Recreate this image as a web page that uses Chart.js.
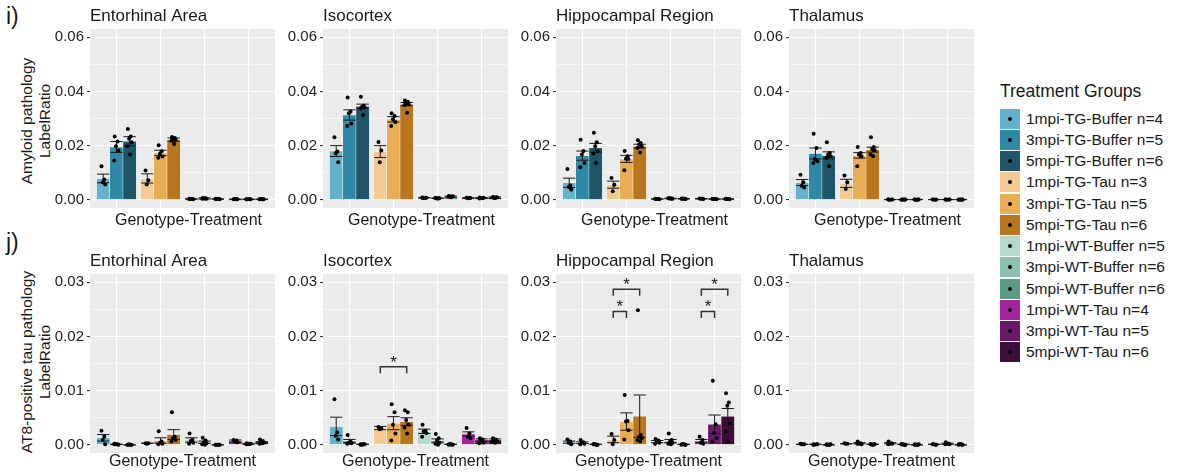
<!DOCTYPE html>
<html>
<head>
<meta charset="utf-8">
<script src="https://cdn.jsdelivr.net/npm/chart.js@4.4.1/dist/chart.umd.min.js"></script>
<style>
  body { margin:0; width:1186px; height:475px; position:relative; overflow:hidden; background:#fff;
         font-family:"Liberation Sans", Arial, sans-serif; color:#1a1a1a; }
  .pnl { position:absolute; }
  .tag { position:absolute; font-size:23px; line-height:26px; }
  .ytitle { position:absolute; font-size:15.5px; line-height:18px; text-align:center; white-space:nowrap;
            transform:translate(-50%,-50%) rotate(-90deg); }
  #legend { position:absolute; left:1000px; top:81px; }
  #legend .ttl { font-size:17.5px; line-height:20px; margin-bottom:7px; }
  #legend .row { height:21.25px; display:flex; align-items:center; font-size:15.5px; }
  #legend .key { width:20px; height:20px; margin-right:6px; position:relative; }
  #legend .key::after { content:""; position:absolute; left:8px; top:8px; width:4px; height:4px; border-radius:50%; background:#000; }
</style>
</head>
<body>
<div class="tag" style="left:6px;top:3px">i)</div>
<div class="tag" style="left:6px;top:229px">j)</div>
<div class="ytitle" style="left:36px;top:121px">Amyloid pathology<br>LabelRatio</div>
<div class="ytitle" style="left:36px;top:362px">AT8-positive tau pathology<br>LabelRatio</div>
<div id="legend"></div>

<script>
// ---- data ----
const regions = ['Entorhinal Area', 'Isocortex', 'Hippocampal Region', 'Thalamus'];
const xTitle = 'Genotype-Treatment';
const legendTitle = 'Treatment Groups';
const groupLabels = ['1mpi-TG-Buffer n=4','3mpi-TG-Buffer n=5','5mpi-TG-Buffer n=6',
  '1mpi-TG-Tau n=3','3mpi-TG-Tau n=5','5mpi-TG-Tau n=6',
  '1mpi-WT-Buffer n=5','3mpi-WT-Buffer n=6','5mpi-WT-Buffer n=6',
  '1mpi-WT-Tau n=4','3mpi-WT-Tau n=5','5mpi-WT-Tau n=6'];

const amyTicks = [0, 0.02, 0.04, 0.06];
const tauTicks = [0, 0.01, 0.02, 0.03];

// amyloid row (i)
const amyEntMean = [0.0079, 0.0195, 0.0216, 0.0079, 0.0173, 0.0222, 0.0003, 0.0005, 0.0003, 0.0002, 0.0002, 0.0002];
const amyEntSe   = [0.0016, 0.0020, 0.0017, 0.0017, 0.0010, 0.0006, 0.0001, 0.0002, 0.0001, 0.0001, 0.0001, 0.0001];
const amyEntPts  = [[0.0124,0.0075,0.0065,0.0057],[0.0234,0.0215,0.0198,0.0182,0.0145],
  [0.0261,0.0234,0.0225,0.0212,0.0198,0.0167],[0.0108,0.0072,0.0057],[0.0201,0.0179,0.0170,0.0160,0.0155],
  [0.0232,0.0228,0.0226,0.0222,0.0218,0.0206],[0.0004,0.0003,0.0003,0.0002,0.0003],
  [0.0007,0.0006,0.0005,0.0004,0.0004,0.0005],[0.0004,0.0003,0.0003,0.0002,0.0003,0.0003],
  [0.0002,0.0002,0.0003,0.0002],[0.0002,0.0002,0.0003,0.0002,0.0002],[0.0002,0.0002,0.0003,0.0002,0.0002,0.0002]];

const amyIsoMean = [0.0180, 0.0313, 0.0345, 0.0178, 0.0297, 0.0353, 0.0008, 0.0006, 0.0012, 0.0007, 0.0007, 0.0009];
const amyIsoSe   = [0.0020, 0.0019, 0.0008, 0.0022, 0.0010, 0.0006, 0.0001, 0.0001, 0.0002, 0.0001, 0.0002, 0.0002];
const amyIsoPts  = [[0.0231,0.0178,0.0172,0.0139],[0.0377,0.0325,0.0319,0.0282,0.0272],
  [0.0380,0.0347,0.0343,0.0341,0.0337,0.0313],[0.0213,0.0182,0.0139],[0.0319,0.0309,0.0297,0.0287,0.0272],
  [0.0366,0.0362,0.0356,0.0353,0.0350,0.0321],[0.0009,0.0008,0.0007,0.0008,0.0008],
  [0.0007,0.0006,0.0005,0.0006,0.0007,0.0005],[0.0014,0.0012,0.0011,0.0013,0.0012,0.0010],
  [0.0008,0.0007,0.0006,0.0007],[0.0009,0.0007,0.0006,0.0008,0.0005],[0.0011,0.0009,0.0008,0.0010,0.0009,0.0007]];

const amyHipMean = [0.0063, 0.0163, 0.0192, 0.0056, 0.0151, 0.0198, 0.0003, 0.0005, 0.0004, 0.0004, 0.0003, 0.0003];
const amyHipSe   = [0.0017, 0.0017, 0.0016, 0.0013, 0.0013, 0.0007, 0.0001, 0.0001, 0.0001, 0.0001, 0.0001, 0.0001];
const amyHipPts  = [[0.0114,0.0053,0.0047,0.0038],[0.0222,0.0180,0.0167,0.0136,0.0120],
  [0.0247,0.0212,0.0198,0.0179,0.0171,0.0136],[0.0081,0.0056,0.0032],[0.0180,0.0161,0.0152,0.0151,0.0109],
  [0.0220,0.0210,0.0204,0.0198,0.0191,0.0175],[0.0004,0.0003,0.0003,0.0002,0.0003],
  [0.0006,0.0005,0.0005,0.0004,0.0006,0.0005],[0.0005,0.0004,0.0004,0.0003,0.0004,0.0004],
  [0.0005,0.0004,0.0004,0.0003],[0.0004,0.0003,0.0003,0.0002,0.0003],[0.0004,0.0003,0.0003,0.0002,0.0003,0.0003]];

const amyThaMean = [0.0064, 0.0171, 0.0164, 0.0061, 0.0164, 0.0185, 0.0001, 0.0001, 0.0001, 0.0001, 0.0001, 0.0001];
const amyThaSe   = [0.0011, 0.0020, 0.0013, 0.0015, 0.0010, 0.0009, 0.00003, 0.00003, 0.00003, 0.00003, 0.00003, 0.00003];
const amyThaPts  = [[0.0093,0.0065,0.0052,0.0046],[0.0244,0.0191,0.0151,0.0142,0.0136],
  [0.0212,0.0173,0.0167,0.0161,0.0155,0.0124],[0.0090,0.0065,0.0040],[0.0195,0.0173,0.0167,0.0161,0.0124],
  [0.0231,0.0195,0.0188,0.0183,0.0167,0.0161],[0.0001,0.0001,0.0000,0.0001,0.0001],
  [0.0001,0.0000,0.0001,0.0001,0.0000,0.0001],[0.0001,0.0001,0.0000,0.0001,0.0001,0.0000],
  [0.0001,0.0000,0.0001,0.0001],[0.0001,0.0001,0.0000,0.0001,0.0001],[0.0001,0.0000,0.0001,0.0001,0.0000,0.0001]];

// AT8 tau row (j)
const tauEntMean = [0.0013, 0.0001, 0.0000, 0.0003, 0.0008, 0.0019, 0.0009, 0.0005, 0.0000, 0.0007, 0.0002, 0.0005];
const tauEntSe   = [0.0006, 0.00005, 0.00002, 0.00003, 0.0005, 0.0009, 0.0004, 0.0002, 0.00002, 0.0002, 0.0001, 0.0001];
const tauEntPts  = [[0.0026,0.0015,0.0009,0.0001],[0.0002,0.0001,0.0001,0.0000,0.0001],
  [0.0000,0.0000,0.0001,0.0000,0.0000,0.0000],[0.0003,0.0003,0.0002],[0.0025,0.0006,0.0004,0.0002,0.0001],
  [0.0060,0.0015,0.0012,0.0009,0.0006,0.0012],[0.0021,0.0009,0.0007,0.0004,0.0002],
  [0.0013,0.0008,0.0005,0.0003,0.0001,0.0000],[0.0000,0.0000,0.0000,0.0000,0.0000,0.0000],
  [0.0009,0.0008,0.0006,0.0005],[0.0003,0.0002,0.0001,0.0002,0.0001],[0.0010,0.0007,0.0005,0.0004,0.0002,0.0003]];

const tauIsoMean = [0.0034, 0.0007, 0.0001, 0.0031, 0.0040, 0.0043, 0.0025, 0.0008, 0.0001, 0.0020, 0.0009, 0.0009];
const tauIsoSe   = [0.0017, 0.0003, 0.00003, 0.0003, 0.0012, 0.0007, 0.0004, 0.0003, 0.00003, 0.0004, 0.0002, 0.0002];
const tauIsoPts  = [[0.0084,0.0023,0.0017,0.0010],[0.0018,0.0006,0.0004,0.0003,0.0002],
  [0.0001,0.0001,0.0000,0.0001,0.0000,0.0001],[0.0033,0.0030,0.0029],[0.0075,0.0060,0.0037,0.0021,0.0008],
  [0.0064,0.0060,0.0046,0.0037,0.0032,0.0021],[0.0037,0.0026,0.0025,0.0022,0.0015],
  [0.0020,0.0012,0.0008,0.0004,0.0002,0.0000],[0.0001,0.0000,0.0001,0.0000,0.0000,0.0001],
  [0.0031,0.0021,0.0015,0.0012],[0.0012,0.0010,0.0008,0.0004,0.0003],[0.0012,0.0010,0.0009,0.0008,0.0006,0.0004]];
const tauIsoSig  = [[3, 5, 0.0144]];

const tauHipMean = [0.0005, 0.0004, 0.0001, 0.0010, 0.0043, 0.0053, 0.0006, 0.0007, 0.0001, 0.0007, 0.0038, 0.0053];
const tauHipSe   = [0.0002, 0.00015, 0.00003, 0.0006, 0.0016, 0.0039, 0.0002, 0.0003, 0.00003, 0.0003, 0.0017, 0.0014];
const tauHipPts  = [[0.0010,0.0006,0.0004,0.0001],[0.0009,0.0005,0.0004,0.0002,0.0001],
  [0.0001,0.0000,0.0001,0.0000,0.0001,0.0000],[0.0020,0.0009,0.0001],[0.0092,0.0044,0.0043,0.0027,0.0010],
  [0.0248,0.0018,0.0015,0.0012,0.0009,0.0006],[0.0011,0.0008,0.0006,0.0004,0.0002],
  [0.0021,0.0009,0.0006,0.0004,0.0002,0.0001],[0.0001,0.0000,0.0001,0.0000,0.0000,0.0001],
  [0.0015,0.0009,0.0004,0.0002],[0.0118,0.0038,0.0022,0.0012,0.0006],[0.0095,0.0078,0.0072,0.0040,0.0025,0.0006]];
const tauHipSig  = [[3, 4, 0.0246], [3, 5, 0.0287], [9, 10, 0.0246], [9, 11, 0.0287]];

const tauThaMean = [0.0001, 0.0001, 0.0000, 0.0002, 0.0003, 0.0001, 0.0003, 0.0001, 0.0000, 0.0001, 0.0002, 0.0000];
const tauThaSe   = [0.00003, 0.00002, 0.00002, 0.00003, 0.0001, 0.00002, 0.0001, 0.00002, 0.00002, 0.00003, 0.0001, 0.00002];
const tauThaPts  = [[0.0002,0.0001,0.0001,0.0001],[0.0001,0.0001,0.0000,0.0001,0.0000],
  [0.0001,0.0000,0.0000,0.0001,0.0000,0.0000],[0.0003,0.0002,0.0002],[0.0006,0.0003,0.0002,0.0001,0.0002],
  [0.0001,0.0001,0.0000,0.0001,0.0001,0.0000],[0.0006,0.0003,0.0002,0.0002,0.0001],
  [0.0001,0.0000,0.0001,0.0000,0.0001,0.0000],[0.0001,0.0000,0.0000,0.0001,0.0000,0.0000],
  [0.0001,0.0000,0.0001,0.0000],[0.0005,0.0002,0.0002,0.0001,0.0001],[0.0001,0.0000,0.0001,0.0000,0.0000,0.0001]];

// ---- styling ----
const groupColors = ['#63b1cd','#2f88a6','#1e5667','#f4ca92','#e9ad55','#b8771f',
                     '#b6d9cd','#8dc1b1','#5b9c89','#a6239f','#6a176a','#3b0d39'];
const FONT = '"Liberation Sans", Arial, sans-serif';
const colLeft = [90, 323, 556, 789];
const AXW = 40, PLOTW = 189;
const rows = [
  { top: 0,   h: 232, padB: 24, min: -0.003,  max: 0.063,  ticks: amyTicks, minor: 0.01,  xShift: 6, xOff: 12.5 },
  { top: 245, h: 230, padB: 22, min: -0.0015, max: 0.0315, ticks: tauTicks, minor: 0.005, xShift: 0, xOff: 9 }
];
const jitter = [-0.04, 0.025, -0.012, 0.045, -0.05, 0.01];
const barPos = i => Math.floor(i / 3) + 1 + (i % 3 - 1) * 0.3;

const panels = [
  { row: 0, col: 0, mean: amyEntMean, se: amyEntSe, pts: amyEntPts, sig: [] },
  { row: 0, col: 1, mean: amyIsoMean, se: amyIsoSe, pts: amyIsoPts, sig: [] },
  { row: 0, col: 2, mean: amyHipMean, se: amyHipSe, pts: amyHipPts, sig: [] },
  { row: 0, col: 3, mean: amyThaMean, se: amyThaSe, pts: amyThaPts, sig: [] },
  { row: 1, col: 0, mean: tauEntMean, se: tauEntSe, pts: tauEntPts, sig: [] },
  { row: 1, col: 1, mean: tauIsoMean, se: tauIsoSe, pts: tauIsoPts, sig: tauIsoSig },
  { row: 1, col: 2, mean: tauHipMean, se: tauHipSe, pts: tauHipPts, sig: tauHipSig },
  { row: 1, col: 3, mean: tauThaMean, se: tauThaSe, pts: tauThaPts, sig: [] }
];

// panel background, error bars, significance brackets, titles
const extras = {
  id: 'extras',
  beforeDraw(chart) {
    const { ctx, chartArea: a } = chart;
    ctx.save();
    ctx.fillStyle = '#ebebeb';
    ctx.fillRect(a.left, a.top, a.right - a.left, a.bottom - a.top);
    ctx.restore();
  },
  afterDatasetDraw(chart, args, o) {
    if (args.meta.type !== 'bar') return;
    const { ctx, scales: { x, y } } = chart;
    ctx.save();
    ctx.strokeStyle = '#1a1a1a';
    ctx.lineWidth = 1;
    o.mean.forEach((m, i) => {
      const p = barPos(i);
      const cx = x.getPixelForValue(p);
      const hw = x.getPixelForValue(p + 0.14) - cx;
      const t = y.getPixelForValue(m + o.se[i]);
      const b = y.getPixelForValue(m - o.se[i]);
      ctx.beginPath();
      ctx.moveTo(cx - hw, t); ctx.lineTo(cx + hw, t);
      ctx.moveTo(cx, t); ctx.lineTo(cx, b);
      ctx.moveTo(cx - hw, b); ctx.lineTo(cx + hw, b);
      ctx.stroke();
    });
    ctx.restore();
  },
  afterDraw(chart, args, o) {
    const { ctx, chartArea: a, scales: { x, y } } = chart;
    ctx.save();
    ctx.strokeStyle = '#333';
    ctx.lineWidth = 1.5;
    ctx.fillStyle = '#1a1a1a';
    ctx.font = '17px ' + FONT;
    ctx.textAlign = 'center';
    ctx.textBaseline = 'alphabetic';
    o.sig.forEach(([from, to, h]) => {
      const xa = x.getPixelForValue(barPos(from));
      const xb = x.getPixelForValue(barPos(to));
      const yt = y.getPixelForValue(h);
      const yl = y.getPixelForValue(h - 0.0012);
      ctx.beginPath();
      ctx.moveTo(xa, yl); ctx.lineTo(xa, yt); ctx.lineTo(xb, yt); ctx.lineTo(xb, yl);
      ctx.stroke();
      ctx.fillText('*', (xa + xb) / 2, yt + 1);
    });
    ctx.textBaseline = 'middle';
    ctx.font = '17px ' + FONT;
    ctx.textAlign = 'left';
    ctx.fillText(o.title, a.left, a.top - 13);
    ctx.font = '16px ' + FONT;
    ctx.textAlign = 'center';
    ctx.fillText(xTitle, (a.left + a.right) / 2 + o.xShift, a.bottom + o.xOff);
    ctx.restore();
  }
};

panels.forEach(pn => {
  const r = rows[pn.row];
  const wrap = document.createElement('div');
  wrap.className = 'pnl';
  wrap.style.left = (colLeft[pn.col] - AXW) + 'px';
  wrap.style.top = r.top + 'px';
  const cv = document.createElement('canvas');
  cv.width = AXW + PLOTW;
  cv.height = r.h;
  wrap.appendChild(cv);
  document.body.appendChild(wrap);

  const isMajor = v => r.ticks.some(t => Math.abs(t - v) < 1e-9);
  const yTickVals = [];
  for (let k = 0; k <= Math.round(r.ticks[r.ticks.length - 1] / r.minor); k++) yTickVals.push(+(k * r.minor).toFixed(4));

  const points = [];
  pn.pts.forEach((arr, i) => arr.forEach((v, k) => points.push({ x: barPos(i) + jitter[k % jitter.length], y: v })));

  new Chart(cv, {
    type: 'bar',
    data: {
      datasets: [
        {
          type: 'bar', order: 2,
          data: pn.mean.map((m, i) => ({ x: barPos(i), y: m })),
          backgroundColor: groupColors,
          borderColor: '#ffffff',
          borderWidth: 0.6,
          barThickness: 13.5
        },
        {
          type: 'scatter', order: 1,
          data: points,
          pointRadius: 2,
          pointBackgroundColor: '#000',
          pointBorderWidth: 0
        }
      ]
    },
    options: {
      responsive: false,
      animation: false,
      events: [],
      layout: { padding: { top: 29, bottom: r.padB, left: 0, right: 0 } },
      plugins: {
        legend: { display: false },
        tooltip: { enabled: false },
        extras: { mean: pn.mean, se: pn.se, sig: pn.sig, title: regions[pn.col], xShift: r.xShift, xOff: r.xOff }
      },
      scales: {
        x: {
          type: 'linear', min: 0.4, max: 4.6, offset: false,
          ticks: { display: false },
          grid: { color: '#ffffff', lineWidth: 1.1, drawTicks: false, offset: false },
          border: { display: false },
          afterBuildTicks: s => { s.ticks = [1, 2, 3, 4].map(v => ({ value: v })); },
          afterFit: s => { s.height = 0; }
        },
        y: {
          type: 'linear', min: r.min, max: r.max,
          afterBuildTicks: s => { s.ticks = yTickVals.map(v => ({ value: v })); },
          afterFit: s => { s.width = AXW; },
          ticks: {
            autoSkip: false, padding: 3, color: '#222',
            font: { family: FONT, size: 15 },
            callback: v => isMajor(v) ? v.toFixed(2) : ''
          },
          grid: {
            color: '#ffffff',
            lineWidth: c => isMajor(c.tick.value) ? 1.1 : 0.55,
            tickLength: 3,
            tickColor: c => isMajor(c.tick.value) ? '#333' : 'rgba(0,0,0,0)'
          },
          border: { display: false }
        }
      }
    },
    plugins: [extras]
  });
});

// legend
const lg = document.getElementById('legend');
lg.innerHTML = '<div class="ttl">' + legendTitle + '</div>' +
  groupLabels.map((t, i) => '<div class="row"><div class="key" style="background:' + groupColors[i] + '"></div>' + t + '</div>').join('');
</script>
</body>
</html>
